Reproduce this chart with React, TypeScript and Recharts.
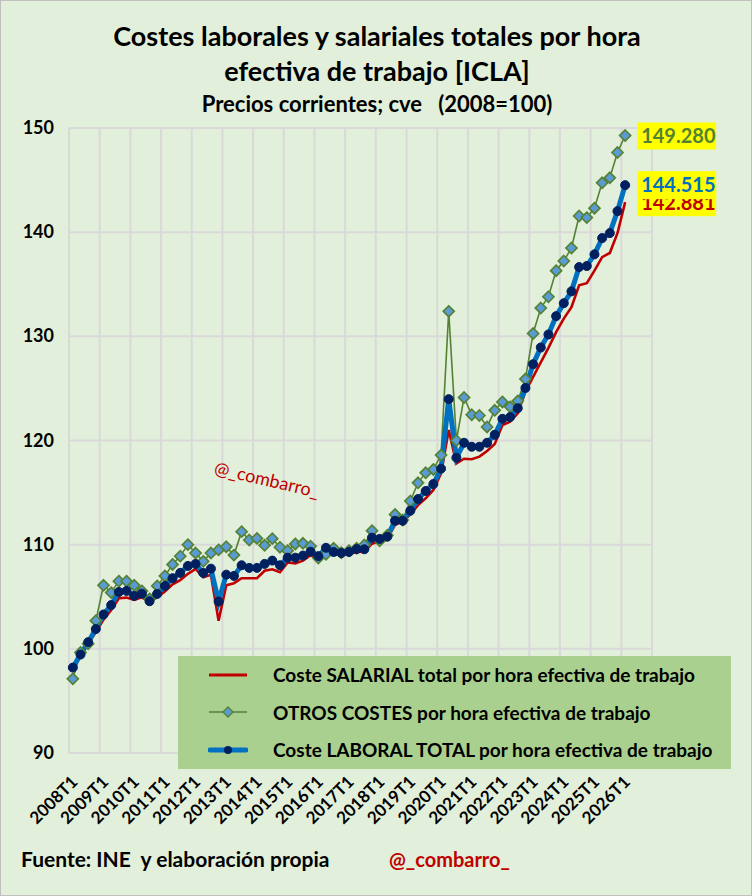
import React from "react";
import {
  LineChart,
  Line,
  XAxis,
  YAxis,
  CartesianGrid,
} from "recharts";

// quarterly axis 2008T1 .. 2026T4 (labels shown only on T1)
const years = [
  2008, 2009, 2010, 2011, 2012, 2013, 2014, 2015, 2016, 2017,
  2018, 2019, 2020, 2021, 2022, 2023, 2024, 2025, 2026,
];
const quarters = ["T1", "T2", "T3", "T4"];

const salarial = [
  98.0, 99.3, 100.5, 101.6, 102.8, 103.74, 104.86, 104.92, 104.7, 104.95,
  104.5, 104.95, 105.5, 106.2, 106.6, 107.2, 107.67, 106.87, 107.1, 102.7,
  106.1, 106.3, 106.78, 106.78, 106.78, 107.5, 107.64, 107.35, 108.3, 108.2,
  108.47, 109.0, 108.6, 109.2, 109.1, 109.0, 109.1, 109.3, 109.33, 110.1,
  110.3, 110.6, 111.9, 112.2, 112.9, 113.8, 114.45, 115.25, 116.85, 121.0,
  117.8, 118.25, 118.2, 118.45, 119.0, 119.66, 121.48, 121.8, 122.6, 124.7,
  126.1, 127.5, 128.9, 130.4, 131.7, 132.8, 134.9, 135.1, 136.3, 137.6,
  138.0, 139.9, 142.881,
];

const otros = [
  97.12, 99.65, 100.48, 102.7, 106.1, 105.4, 106.5, 106.5, 106.1, 105.56,
  104.8, 106.04, 107.0, 108.1, 108.9, 110.0, 109.2, 108.4, 109.2, 109.5,
  109.8, 109.0, 111.25, 110.45, 110.6, 109.94, 110.58, 109.75, 109.42, 110.07,
  110.13, 109.85, 108.72, 109.08, 109.65, 109.23, 109.42, 109.65, 109.97, 111.34,
  110.38, 110.9, 112.9, 112.37, 114.19, 115.94, 116.9, 117.22, 118.6, 132.4,
  120.0, 124.13, 122.47, 122.4, 121.3, 122.9, 123.7, 123.23, 123.8, 125.9,
  130.27, 132.72, 133.8, 136.3, 137.23, 138.48, 141.55, 141.4, 142.3, 144.74,
  145.22, 147.65, 149.28,
];

const laboral = [
  98.2, 99.45, 100.64, 101.9, 103.3, 104.2, 105.46, 105.56, 105.08, 105.3,
  104.57, 105.27, 106.04, 106.78, 107.29, 107.96, 108.15, 107.29, 107.7, 104.54,
  107.12, 107.0, 108.02, 107.77, 107.77, 108.15, 108.47, 108.02, 108.75, 108.75,
  108.95, 109.33, 108.9, 109.7, 109.3, 109.2, 109.3, 109.58, 109.56, 110.67,
  110.55, 110.77, 112.3, 112.3, 113.26, 114.38, 115.15, 115.82, 117.3, 123.97,
  118.35, 119.78, 119.4, 119.4, 119.78, 120.55, 122.08, 122.25, 123.1, 125.04,
  127.32, 128.93, 130.18, 131.94, 133.18, 134.32, 136.65, 136.75, 137.87, 139.43,
  139.91, 142.02, 144.515,
];

const yTicks = [90, 100, 110, 120, 130, 140, 150];

const categories = years.flatMap((y) => quarters.map((q) => `${y}${q}`));
const lastIndex = laboral.length - 1;

const data = categories.map((q, i) => ({
  q,
  salarial: i < salarial.length ? salarial[i] : null,
  otros: i < otros.length ? otros[i] : null,
  laboral: i < laboral.length ? laboral[i] : null,
}));

const FONT = "Lato, 'Open Sans', sans-serif";
const W = 752;
const H = 896;
const PLOT_LEFT = 68;
const PLOT_RIGHT = 651;
const PLOT_TOP = 127;
const PLOT_BOTTOM = 752;
const CAT_W = (PLOT_RIGHT - PLOT_LEFT) / categories.length;

const RED = "#C00000";
const OLIVE = "#548235";
const LIGHTBLUE = "#5B9BD5";
const BLUE = "#0070C0";
const NAVY = "#002060";

// gridlines sit between categories, one every 4 quarters
const vGrid = () => {
  const out: number[] = [];
  for (let k = 0; k <= categories.length; k += 4) out.push(PLOT_LEFT + k * CAT_W);
  return out;
};

const XTick = (props: any) => {
  const { x, y, payload } = props;
  const tx = x + 6;
  const ty = y + 22;
  return (
    <text
      x={tx}
      y={ty}
      transform={`rotate(-45 ${tx} ${ty})`}
      textAnchor="end"
      fontFamily={FONT}
      fontWeight="bold"
      fontSize={17}
      fill="#000"
    >
      {payload.value}
    </text>
  );
};

const YTick = (props: any) => {
  const { x, y, payload } = props;
  return (
    <text
      x={x - 2}
      y={y}
      dy={6}
      textAnchor="end"
      fontFamily={FONT}
      fontWeight="bold"
      fontSize={18}
      fill="#000"
    >
      {payload.value}
    </text>
  );
};

const Diamond = (props: any) => {
  const { cx, cy } = props;
  if (cx == null || cy == null) return null;
  const r = 5.5;
  return (
    <path
      d={`M${cx},${cy - r}L${cx + r},${cy}L${cx},${cy + r}L${cx - r},${cy}Z`}
      fill={LIGHTBLUE}
      stroke={OLIVE}
      strokeWidth={1.7}
    />
  );
};

// value box at the end of each series (yellow, like the original)
const endLabel = (color: string, text: string, boxTop: number, boxH: number) => (props: any) => {
  const { x, y, index } = props;
  if (index !== lastIndex) return null;
  return (
    <g>
      <rect x={x + 12} y={y + boxTop} width={79} height={boxH} fill="#FFFF00" />
      <text
        x={x + 16}
        y={y + boxTop + boxH / 2}
        dy={7}
        fontFamily={FONT}
        fontWeight="bold"
        fontSize={20}
        fill={color}
      >
        {text}
      </text>
    </g>
  );
};

const legendItems = [
  { label: "Coste SALARIAL total por hora efectiva de trabajo", kind: "red" },
  { label: "OTROS COSTES por hora efectiva de trabajo", kind: "green" },
  { label: "Coste LABORAL TOTAL por hora efectiva de trabajo", kind: "blue" },
];

const LegendSymbol = ({ kind }: { kind: string }) => (
  <svg width={40} height={14} style={{ display: "block" }}>
    {kind === "red" && <line x1={1} y1={7} x2={39} y2={7} stroke={RED} strokeWidth={3} />}
    {kind === "green" && (
      <>
        <line x1={1} y1={7} x2={39} y2={7} stroke={OLIVE} strokeWidth={1.5} />
        <path d="M20,2L25,7L20,12L15,7Z" fill={LIGHTBLUE} stroke={OLIVE} strokeWidth={1.4} />
      </>
    )}
    {kind === "blue" && (
      <>
        <line x1={2} y1={7} x2={38} y2={7} stroke={BLUE} strokeWidth={5} strokeLinecap="round" />
        <circle cx={20} cy={7} r={4} fill={NAVY} />
      </>
    )}
  </svg>
);

export default function App() {
  return (
    <div
      style={{
        position: "relative",
        width: W,
        height: H,
        background: "#E2EFDA",
        fontFamily: FONT,
        boxSizing: "border-box",
        border: "1px solid #BFBFBF",
        overflow: "hidden",
      }}
    >
      <style>{"body{margin:0}"}</style>
      <div
        style={{
          position: "absolute",
          top: 17,
          left: 0,
          width: W,
          textAlign: "center",
          fontWeight: "bold",
          fontSize: 27,
          lineHeight: "35px",
          color: "#000",
        }}
      >
        Costes laborales y salariales totales por hora
        <br />
        efectiva de trabajo [ICLA]
      </div>
      <div
        style={{
          position: "absolute",
          top: 89,
          left: 0,
          width: W,
          textAlign: "center",
          fontWeight: "bold",
          fontSize: 22,
          lineHeight: "28px",
          whiteSpace: "pre",
          color: "#000",
        }}
      >
        {"Precios corrientes; cve   (2008=100)"}
      </div>

      <LineChart
        width={W}
        height={H}
        data={data}
        margin={{ top: PLOT_TOP, right: W - PLOT_RIGHT, bottom: H - PLOT_BOTTOM - 60, left: PLOT_LEFT - 60 }}
        style={{ position: "absolute", top: 0, left: 0 }}
      >
        <CartesianGrid
          stroke="#D9D9D9"
          strokeWidth={2}
          verticalCoordinatesGenerator={vGrid}
        />
        <XAxis
          dataKey="q"
          interval={3}
          height={60}
          padding={{ left: CAT_W / 2, right: CAT_W / 2 }}
          axisLine={false}
          tickLine={false}
          tick={<XTick />}
        />
        <YAxis
          width={60}
          domain={[90, 150]}
          ticks={yTicks}
          axisLine={false}
          tickLine={false}
          tickSize={6}
          tickMargin={7}
          tick={<YTick />}
        />
        <Line
          dataKey="salarial"
          stroke={RED}
          strokeWidth={2.6}
          dot={false}
          isAnimationActive={false}
          label={endLabel(RED, "142.881", -13, 27)}
        />
        <Line
          dataKey="otros"
          stroke={OLIVE}
          strokeWidth={1.6}
          dot={<Diamond />}
          isAnimationActive={false}
          label={endLabel(OLIVE, "149.280", -13, 27)}
        />
        <Line
          dataKey="laboral"
          stroke={BLUE}
          strokeWidth={5}
          dot={{ r: 4.5, fill: NAVY, stroke: NAVY, strokeWidth: 1 }}
          isAnimationActive={false}
          label={endLabel(BLUE, "144.515", -14, 28)}
        />
      </LineChart>

      <div
        style={{
          position: "absolute",
          left: 266,
          top: 478,
          transform: "translate(-50%, -50%) rotate(13deg)",
          color: RED,
          fontSize: 18,
          whiteSpace: "nowrap",
        }}
      >
        @_combarro_
      </div>

      <div
        style={{
          position: "absolute",
          left: 177,
          top: 655,
          width: 553,
          height: 113,
          background: "#A9D08E",
          boxSizing: "border-box",
        }}
      >
        {legendItems.map((it) => (
          <div
            key={it.kind}
            style={{ display: "flex", alignItems: "center", height: 37.5 }}
          >
            <div style={{ marginLeft: 30, width: 40 }}>
              <LegendSymbol kind={it.kind} />
            </div>
            <div style={{ marginLeft: 25, fontSize: 19, fontWeight: "bold", color: "#000", whiteSpace: "nowrap" }}>
              {it.label}
            </div>
          </div>
        ))}
      </div>

      <div
        style={{
          position: "absolute",
          left: 20,
          top: 845,
          fontSize: 21,
          fontWeight: "bold",
          whiteSpace: "pre",
          color: "#000",
        }}
      >
        {"Fuente: INE  y elaboración propia"}
      </div>
      <div
        style={{
          position: "absolute",
          left: 388,
          top: 846,
          fontSize: 20,
          fontWeight: "bold",
          color: RED,
        }}
      >
        @_combarro_
      </div>
    </div>
  );
}
